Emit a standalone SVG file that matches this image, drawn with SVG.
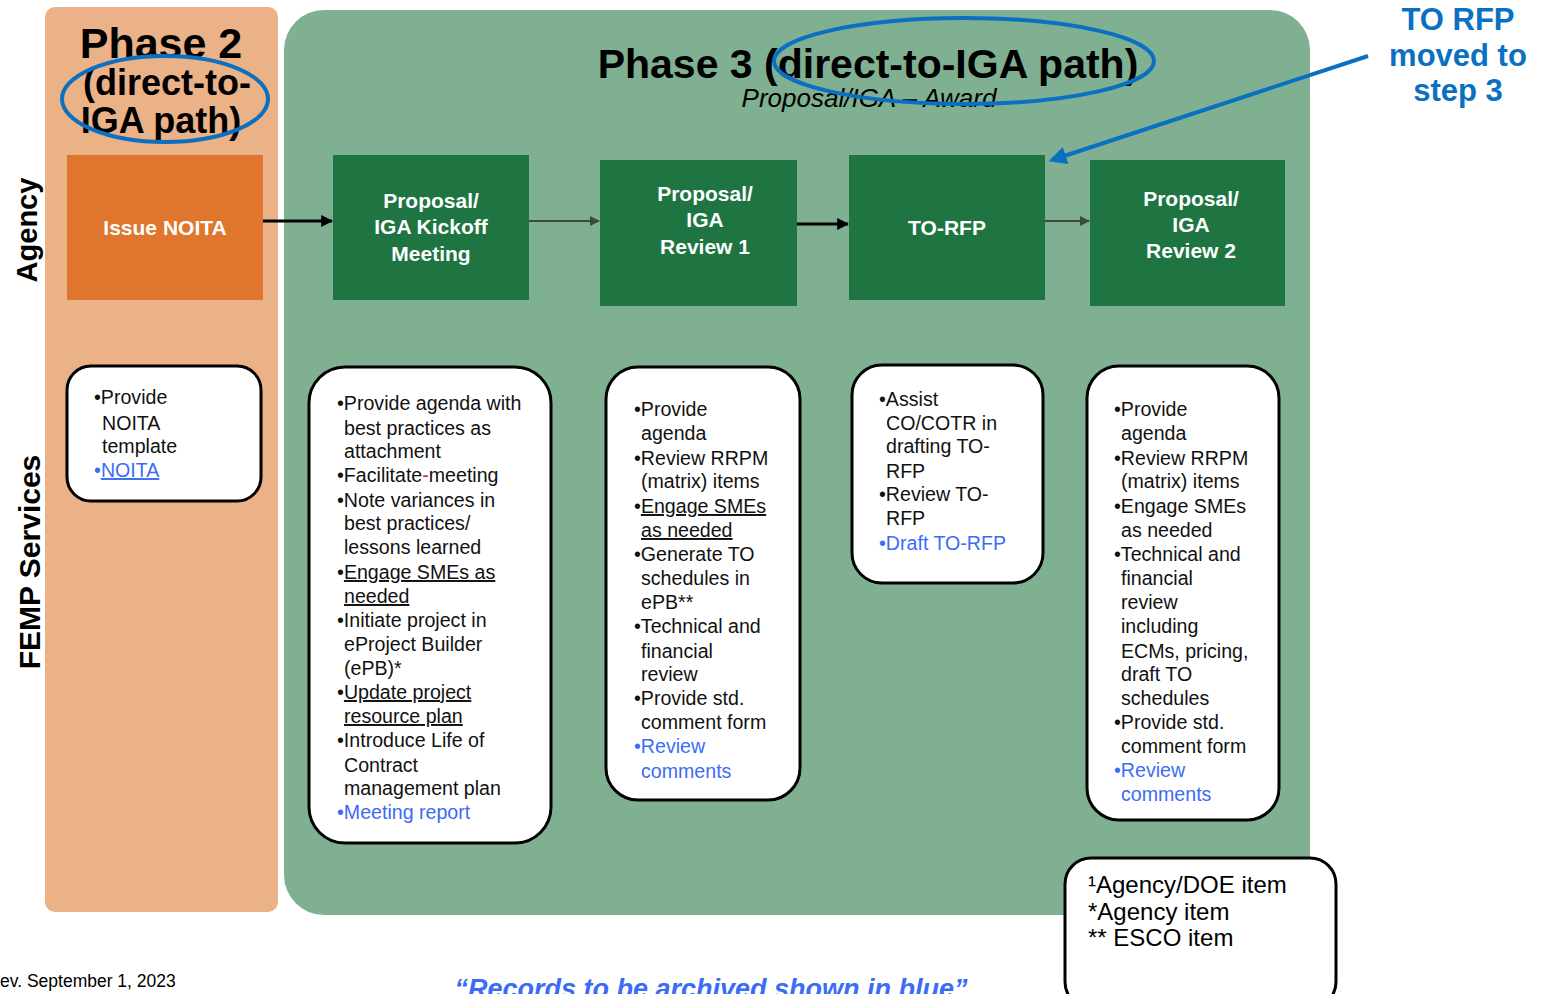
<svg xmlns="http://www.w3.org/2000/svg" width="1544" height="994" viewBox="0 0 1544 994">
<defs>
<style>
.t{font-family:"Liberation Sans",Arial,sans-serif;}
.b{font-weight:bold;}
.hd{font-family:"Liberation Sans",Arial,sans-serif;font-weight:bold;font-size:21px;fill:#ffffff;text-anchor:middle;}
.step{fill:#1e7542;}
.note{fill:#ffffff;stroke:#000000;stroke-width:3;}
.bt{font-family:"Liberation Sans",Arial,sans-serif;font-size:19.6px;fill:#111111;}
.blue{fill:#3b6cf5;}
.ul{text-decoration:underline;}
.oval{fill:none;stroke:#0b6fc2;stroke-width:4;}
.conn{fill:none;stroke:#000000;stroke-width:3;}
.conn2{fill:none;stroke:#3a4a3f;stroke-width:2;}
</style>
<marker id="ah" viewBox="0 0 10 10" refX="9" refY="5" markerWidth="4" markerHeight="4" orient="auto" markerUnits="strokeWidth">
<path d="M0,0 L10,5 L0,10 z" fill="#000000"/>
</marker>
<marker id="ah2" viewBox="0 0 10 10" refX="9" refY="5" markerWidth="5" markerHeight="5" orient="auto" markerUnits="strokeWidth">
<path d="M0,0 L10,5 L0,10 z" fill="#3a4a3f"/>
</marker>
<marker id="ahb" viewBox="0 0 10 10" refX="8" refY="5" markerWidth="4.5" markerHeight="4.5" orient="auto" markerUnits="strokeWidth">
<path d="M0,0 L10,5 L0,10 z" fill="#0b6fc2"/>
</marker>
</defs>

<rect width="1544" height="994" fill="#ffffff"/>

<g id="phase2-panel">
<rect x="45" y="7" width="233" height="905" rx="10" fill="#ebb187"/>
<text class="t b" x="161" y="58" font-size="43" text-anchor="middle" fill="#000">Phase 2</text>
<text class="t b" x="167" y="95" font-size="36" text-anchor="middle" fill="#000">(direct-to-</text>
<text class="t b" x="161" y="133" font-size="36" text-anchor="middle" fill="#000">IGA path)</text>
<ellipse class="oval" cx="165" cy="99" rx="103" ry="43"/>
</g>

<g id="phase3-panel">
<path d="M324,10 H1270 A40,40 0 0 1 1310,50 V915 H324 A40,40 0 0 1 284,875 V50 A40,40 0 0 1 324,10 Z" fill="#7fb092"/>
<text class="t b" x="868" y="78" font-size="41" text-anchor="middle" fill="#000">Phase 3 (direct-to-IGA path)</text>
<text class="t" x="869" y="107" font-size="26" font-style="italic" text-anchor="middle" fill="#000">Proposal/IGA – Award</text>
<ellipse class="oval" cx="964" cy="61" rx="190" ry="43"/>
</g>

<g id="lane-labels">
<text class="t b" font-size="29" text-anchor="middle" fill="#000" transform="translate(37,230) rotate(-90)">Agency</text>
<text class="t b" font-size="30" text-anchor="middle" fill="#000" transform="translate(40,562) rotate(-90)">FEMP Services</text>
</g>

<g id="issue-noita">
<rect x="67" y="155" width="196" height="145" fill="#e0752e"/>
<text class="hd" x="165" y="235">Issue NOITA</text>
</g>

<g id="kickoff">
<rect class="step" x="333" y="155" width="196" height="145"/>
<text class="hd" x="431" y="208">Proposal/</text>
<text class="hd" x="431" y="234">IGA Kickoff</text>
<text class="hd" x="431" y="261">Meeting</text>
</g>

<g id="review1">
<rect class="step" x="600" y="160" width="197" height="146"/>
<text class="hd" x="705" y="201">Proposal/</text>
<text class="hd" x="705" y="227">IGA</text>
<text class="hd" x="705" y="254">Review 1</text>
</g>

<g id="to-rfp">
<rect class="step" x="849" y="155" width="196" height="145"/>
<text class="hd" x="947" y="235">TO-RFP</text>
</g>

<g id="review2">
<rect class="step" x="1090" y="160" width="195" height="146"/>
<text class="hd" x="1191" y="206">Proposal/</text>
<text class="hd" x="1191" y="232">IGA</text>
<text class="hd" x="1191" y="258">Review 2</text>
</g>

<g id="connectors">
<line class="conn" x1="263" y1="221" x2="332" y2="221" marker-end="url(#ah)"/>
<line class="conn2" x1="529" y1="221" x2="599" y2="221" marker-end="url(#ah2)"/>
<line class="conn" x1="797" y1="224" x2="848" y2="224" marker-end="url(#ah)"/>
<line class="conn2" x1="1045" y1="221" x2="1089" y2="221" marker-end="url(#ah2)"/>
<line x1="1368" y1="56" x2="1052" y2="160" stroke="#0b6fc2" stroke-width="4" marker-end="url(#ahb)"/>
</g>

<g id="annotation">
<text class="t b" font-size="31" fill="#0b6fc2" text-anchor="middle"><tspan x="1458" y="30">TO RFP</tspan><tspan x="1458" y="66">moved to</tspan><tspan x="1458" y="101">step 3</tspan></text>
</g>

<g id="note-noita">
<rect class="note" x="67" y="366" width="194" height="135" rx="24"/>
<text class="bt"><tspan x="94" y="404">•Provide</tspan><tspan x="102" y="430">NOITA</tspan><tspan x="102" y="453">template</tspan></text>
<text class="bt blue" x="94" y="477">•<tspan class="ul">NOITA</tspan></text>
</g>

<g id="note-kickoff">
<rect class="note" x="309" y="367" width="242" height="476" rx="36"/>
<text class="bt">
<tspan x="337" y="410">•Provide agenda with</tspan>
<tspan x="344" y="435">best practices as</tspan>
<tspan x="344" y="458">attachment</tspan>
<tspan x="337" y="482">•Facilitate<tspan fill="#e02020">-</tspan>meeting</tspan>
<tspan x="337" y="507">•Note variances in</tspan>
<tspan x="344" y="530">best practices/</tspan>
<tspan x="344" y="554">lessons learned</tspan>
<tspan x="337" y="579">•<tspan class="ul">Engage SMEs as</tspan></tspan>
<tspan x="344" y="603" class="ul">needed</tspan>
<tspan x="337" y="627">•Initiate project in</tspan>
<tspan x="344" y="651">eProject Builder</tspan>
<tspan x="344" y="675">(ePB)*</tspan>
<tspan x="337" y="699">•<tspan class="ul">Update project</tspan></tspan>
<tspan x="344" y="723" class="ul">resource plan</tspan>
<tspan x="337" y="747">•Introduce Life of</tspan>
<tspan x="344" y="772">Contract</tspan>
<tspan x="344" y="795">management plan</tspan>
</text>
<text class="bt blue" x="337" y="819">•Meeting report</text>
</g>

<g id="note-review1">
<rect class="note" x="606" y="367" width="194" height="433" rx="32"/>
<text class="bt">
<tspan x="634" y="416">•Provide</tspan>
<tspan x="641" y="440">agenda</tspan>
<tspan x="634" y="465">•Review RRPM</tspan>
<tspan x="641" y="488">(matrix) items</tspan>
<tspan x="634" y="513">•<tspan class="ul">Engage SMEs</tspan></tspan>
<tspan x="641" y="537" class="ul">as needed</tspan>
<tspan x="634" y="561">•Generate TO</tspan>
<tspan x="641" y="585">schedules in</tspan>
<tspan x="641" y="609">ePB**</tspan>
<tspan x="634" y="633">•Technical and</tspan>
<tspan x="641" y="658">financial</tspan>
<tspan x="641" y="681">review</tspan>
<tspan x="634" y="705">•Provide std.</tspan>
<tspan x="641" y="729">comment form</tspan>
</text>
<text class="bt blue"><tspan x="634" y="753">•Review</tspan><tspan x="641" y="778">comments</tspan></text>
</g>

<g id="note-torfp">
<rect class="note" x="852" y="365" width="191" height="218" rx="30"/>
<text class="bt">
<tspan x="879" y="406">•Assist</tspan>
<tspan x="886" y="430">CO/COTR in</tspan>
<tspan x="886" y="453">drafting TO-</tspan>
<tspan x="886" y="478">RFP</tspan>
<tspan x="879" y="501">•Review TO-</tspan>
<tspan x="886" y="525">RFP</tspan>
</text>
<text class="bt blue" x="879" y="550">•Draft TO-RFP</text>
</g>

<g id="note-review2">
<rect class="note" x="1087" y="366" width="192" height="454" rx="32"/>
<text class="bt">
<tspan x="1114" y="416">•Provide</tspan>
<tspan x="1121" y="440">agenda</tspan>
<tspan x="1114" y="465">•Review RRPM</tspan>
<tspan x="1121" y="488">(matrix) items</tspan>
<tspan x="1114" y="513">•Engage SMEs</tspan>
<tspan x="1121" y="537">as needed</tspan>
<tspan x="1114" y="561">•Technical and</tspan>
<tspan x="1121" y="585">financial</tspan>
<tspan x="1121" y="609">review</tspan>
<tspan x="1121" y="633">including</tspan>
<tspan x="1121" y="658">ECMs, pricing,</tspan>
<tspan x="1121" y="681">draft TO</tspan>
<tspan x="1121" y="705">schedules</tspan>
<tspan x="1114" y="729">•Provide std.</tspan>
<tspan x="1121" y="753">comment form</tspan>
</text>
<text class="bt blue"><tspan x="1114" y="777">•Review</tspan><tspan x="1121" y="801">comments</tspan></text>
</g>

<g id="legend">
<rect class="note" x="1065" y="858" width="271" height="150" rx="26" stroke-width="3.5"/>
<text class="t" font-size="24" fill="#000"><tspan x="1088" y="893">¹Agency/DOE item</tspan><tspan x="1088" y="920">*Agency item</tspan><tspan x="1088" y="946">** ESCO item</tspan></text>
</g>

<g id="footer">
<text class="t" x="0" y="987" font-size="17.5" fill="#000">ev. September 1, 2023</text>
<text class="t b" x="711" y="998" font-size="27" font-style="italic" text-anchor="middle" fill="#3b6cf5">“Records to be archived shown in blue”</text>
</g>
</svg>
